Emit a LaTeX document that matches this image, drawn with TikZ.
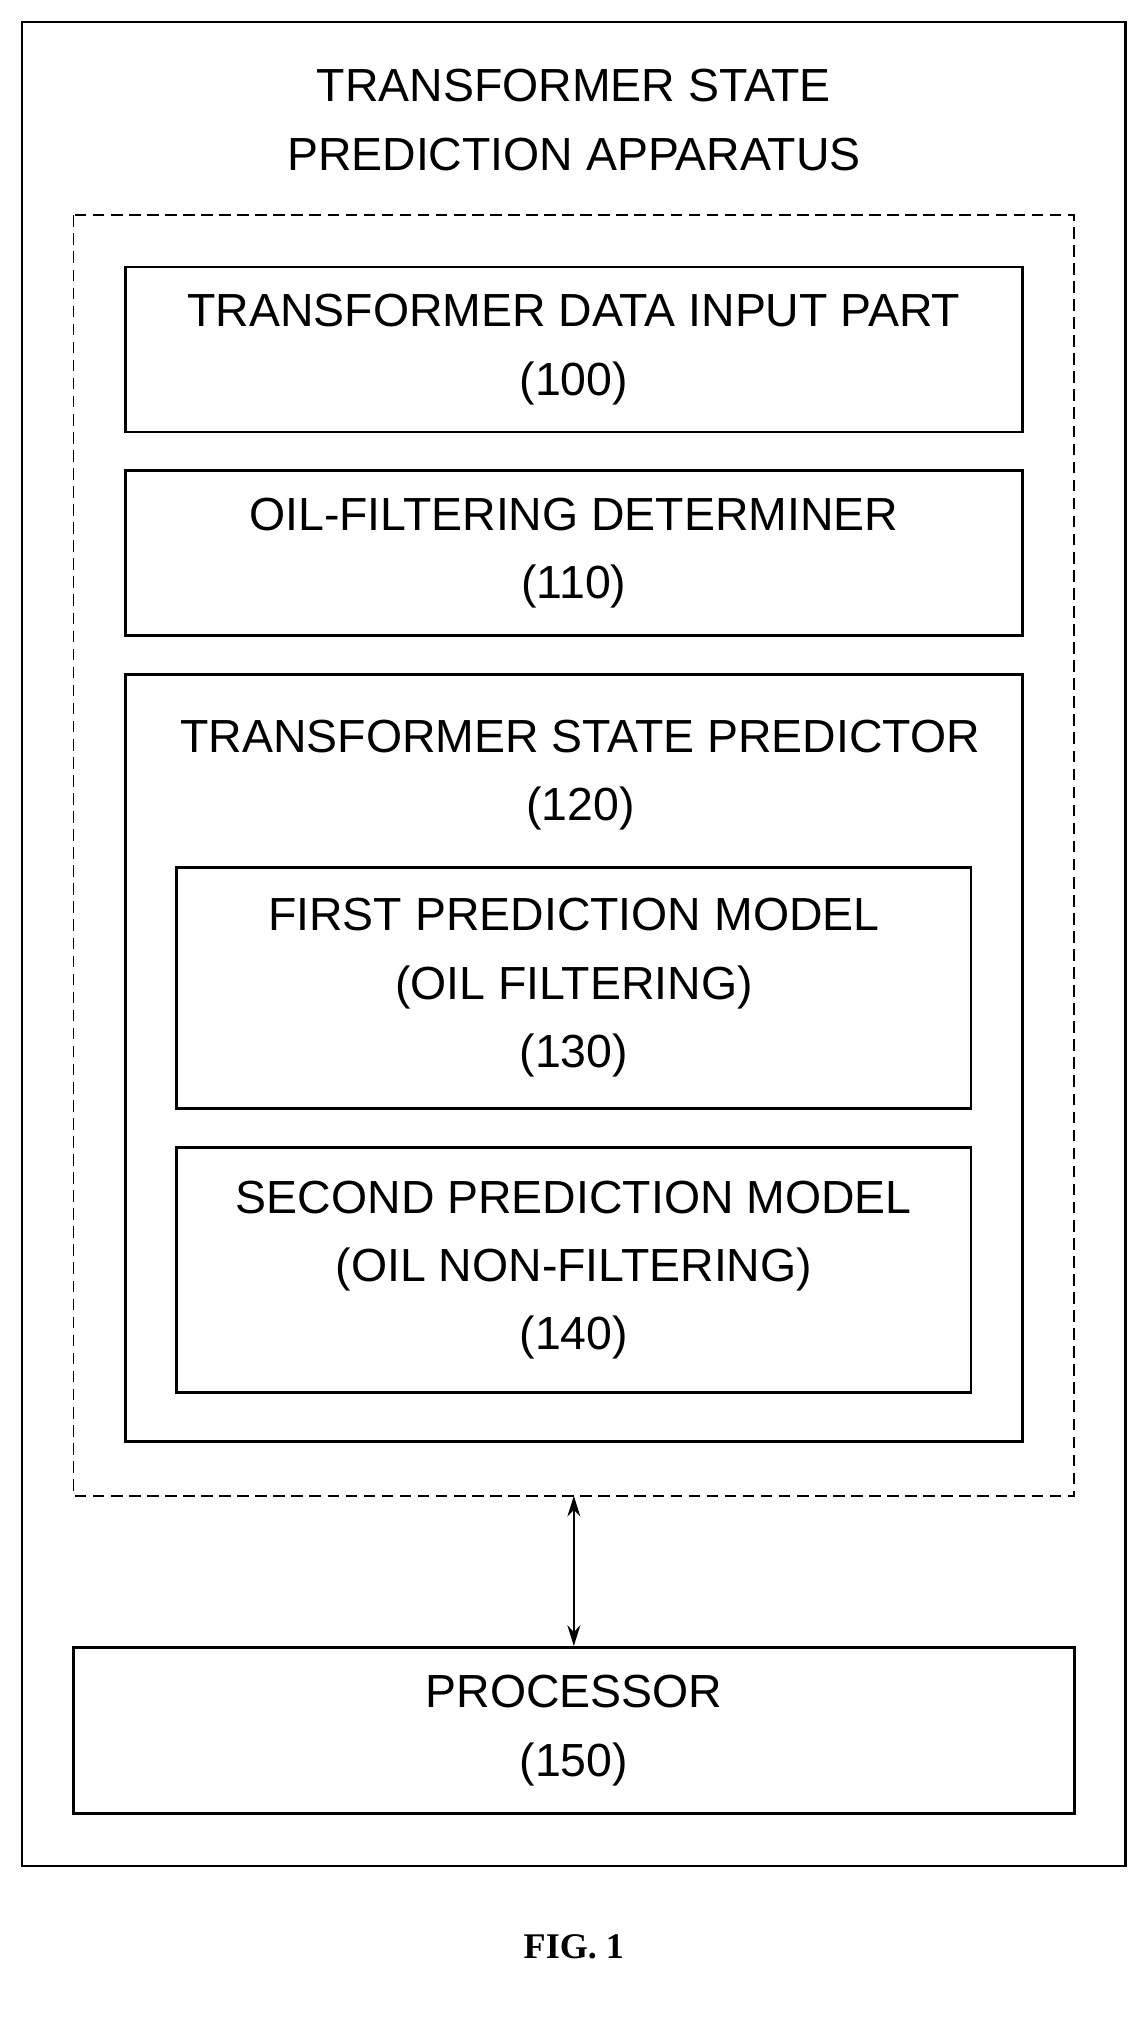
\documentclass[tikz,border=0pt]{standalone}
\usepackage{fontspec}
\setmainfont{Liberation Sans}
\newfontfamily\figfont{Liberation Serif}
\usepackage{tikz}
\usetikzlibrary{arrows.meta}

\begin{document}
\begin{tikzpicture}
	[x=1pt,y=-1pt,every node/.style={font=\fontsize{36}{53}\selectfont, align=center}]
	\tikzstyle{unit} = [draw, line width=2.2pt, inner sep=0pt];
	\useasboundingbox (0,0) rectangle (890,1568);
	
	\draw[line width=2pt] (17,17) rectangle (873,1447);
	\draw[line width=1.5pt, dash pattern=on 9pt off 5pt] (57,167) rectangle (833,1160);
	\node (app) at (445,93) {TRANSFORMER STATE\\PREDICTION APPARATUS};
	
	\node[unit, minimum width=696, minimum height=128] (p100) at (445,271) {TRANSFORMER DATA INPUT PART\\(100)};
	\node[unit, minimum width=696, minimum height=128] (p110) at (445,429) {OIL-FILTERING DETERMINER\\(110)};
	\draw[line width=2.2pt] (97,523) rectangle (793,1118);
	\node (p120) at (450,601) {TRANSFORMER STATE PREDICTOR\\(120)};
	\node[unit, minimum width=616, minimum height=187] (p130) at (445,766) {FIRST PREDICTION MODEL\\(OIL FILTERING)\\(130)};
	\node[unit, minimum width=616, minimum height=190] (p140) at (445,985) {SECOND PREDICTION MODEL\\(OIL NON-FILTERING)\\(140)};
	
	\node[unit, minimum width=776, minimum height=129] (p150) at (445,1342) {PROCESSOR\\(150)};
	\coordinate (dash) at (445,1160);
	\draw[line width=1.8pt, {Stealth[length=16pt,width=10pt]}-{Stealth[length=16pt,width=10pt]}] (dash) -- (p150.north);
	
	\node[font=\fontsize{28}{32}\selectfont\bfseries\figfont] (fig) at (445,1510) {FIG. 1};
\end{tikzpicture}
\end{document}
